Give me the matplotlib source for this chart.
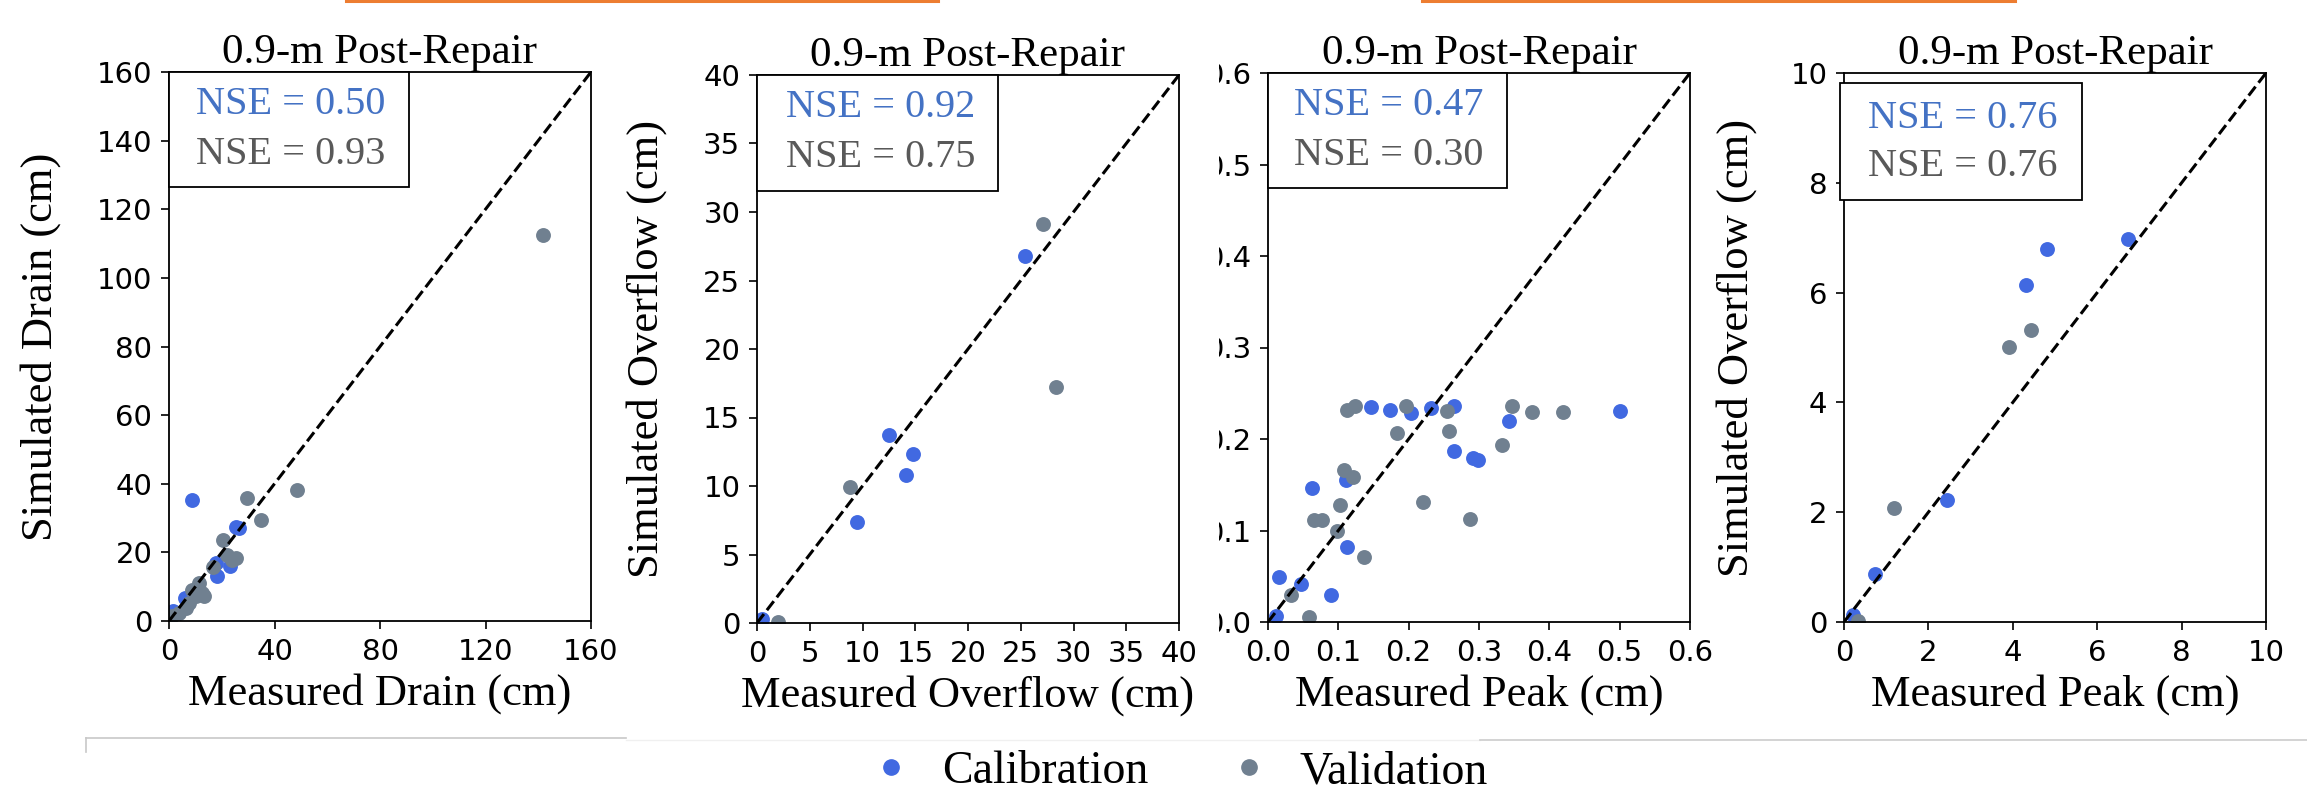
import matplotlib
matplotlib.use("Agg")
import matplotlib.pyplot as plt
from matplotlib.patches import Rectangle
from matplotlib.lines import Line2D

# ---------------- data ----------------
title = "0.9-m Post-Repair"
cal_color = "royalblue"
val_color = "slategray"

# Panel 1: Drain
drain_cal_x = [8.85, 25.3, 26.5, 17.7, 23.0, 18.3, 6.1, 1.5]
drain_cal_y = [35.3, 27.4, 27.1, 16.8, 16.1, 13.0, 6.7, 2.9]
drain_val_x = [141.8, 48.7, 29.5, 35.0, 20.6, 22.1, 25.3, 23.8, 16.7, 11.4, 8.85,
               12.6, 13.3, 10.1, 7.6, 6.3, 3.8, 1.3]
drain_val_y = [112.6, 38.2, 35.9, 29.5, 23.6, 19.2, 18.3, 17.8, 15.7, 11.1, 9.1,
               8.2, 7.2, 7.2, 5.3, 3.8, 2.4, 1.4]

# Panel 2: Overflow
over_cal_x = [25.45, 12.5, 14.8, 14.1, 9.5, 0.45]
over_cal_y = [26.8, 13.75, 12.3, 10.8, 7.4, 0.3]
over_val_x = [27.1, 28.3, 8.8, 2.0]
over_val_y = [29.1, 17.2, 9.95, 0.07]

# Panel 3: Peak
peak_cal_x = [0.147, 0.174, 0.203, 0.232, 0.264, 0.500, 0.342, 0.264, 0.292, 0.298,
              0.111, 0.062, 0.112, 0.015, 0.047, 0.089, 0.011]
peak_cal_y = [0.235, 0.232, 0.228, 0.234, 0.236, 0.231, 0.220, 0.187, 0.179, 0.177,
              0.155, 0.146, 0.082, 0.049, 0.041, 0.029, 0.007]
peak_val_x = [0.112, 0.124, 0.196, 0.255, 0.347, 0.375, 0.419, 0.183, 0.258, 0.332,
              0.108, 0.121, 0.221, 0.102, 0.065, 0.077, 0.287, 0.098, 0.136, 0.033, 0.058]
peak_val_y = [0.232, 0.236, 0.236, 0.231, 0.236, 0.230, 0.230, 0.207, 0.209, 0.193,
              0.166, 0.158, 0.131, 0.128, 0.112, 0.112, 0.113, 0.099, 0.071, 0.030, 0.006]

# Panel 4: Peak (overflow)
pk2_cal_x = [6.74, 4.80, 4.32, 2.43, 0.73, 0.21]
pk2_cal_y = [6.98, 6.79, 6.13, 2.22, 0.87, 0.13]
pk2_val_x = [4.42, 3.92, 1.19, 0.32]
pk2_val_y = [5.31, 5.01, 2.07, 0.02]

panels = [
    dict(cx=drain_cal_x, cy=drain_cal_y, vx=drain_val_x, vy=drain_val_y, lim=160,
         xticks=[0, 40, 80, 120, 160], yticks=list(range(0, 161, 20)),
         xlabel="Measured Drain (cm)", ylabel="Simulated Drain (cm)",
         nse=("NSE = 0.50", "NSE = 0.93")),
    dict(cx=over_cal_x, cy=over_cal_y, vx=over_val_x, vy=over_val_y, lim=40,
         xticks=list(range(0, 41, 5)), yticks=list(range(0, 41, 5)),
         xlabel="Measured Overflow (cm)", ylabel="Simulated Overflow (cm)",
         nse=("NSE = 0.92", "NSE = 0.75")),
    dict(cx=peak_cal_x, cy=peak_cal_y, vx=peak_val_x, vy=peak_val_y, lim=0.6,
         xticks=[0.0, 0.1, 0.2, 0.3, 0.4, 0.5, 0.6], yticks=[0.0, 0.1, 0.2, 0.3, 0.4, 0.5, 0.6],
         xlabel="Measured Peak (cm)", ylabel=None,
         nse=("NSE = 0.47", "NSE = 0.30")),
    dict(cx=pk2_cal_x, cy=pk2_cal_y, vx=pk2_val_x, vy=pk2_val_y, lim=10,
         xticks=[0, 2, 4, 6, 8, 10], yticks=[0, 2, 4, 6, 8, 10],
         xlabel="Measured Peak (cm)", ylabel="Simulated Overflow (cm)",
         nse=("NSE = 0.76", "NSE = 0.76")),
]

# ---------------- layout (pixels of a 2307x800 canvas) ----------------
W, H = 2307, 800
ax_px = [(169, 72, 621), (757, 75, 623), (1268, 73, 622), (1844, 73, 622)]
ax_w = 422
box_px = [(0.0, 0.569, 1.0, 0.79), (0.0, 0.571, 1.0, 0.788),
          (0.0, 0.566, 1.0, 0.79), (-0.01, 0.564, 0.982, 0.769)]
nse_pos = [(0.065, 0.94, 0.85), (0.069, 0.94, 0.85), (0.062, 0.94, 0.85), (0.057, 0.918, 0.829)]
ylab_x = [-0.256, -0.213, None, -0.206]

serif = "Liberation Serif"
fig = plt.figure(figsize=(W / 100, H / 100), dpi=100)
fig.patch.set_facecolor("white")

for i, p in enumerate(panels):
    l, t, b = ax_px[i]
    ax = fig.add_axes([l / W, (H - b) / H, ax_w / W, (b - t) / H])
    ax.scatter(p["cx"], p["cy"], s=115, color=cal_color, linewidths=0, zorder=2)
    ax.scatter(p["vx"], p["vy"], s=115, color=val_color, linewidths=0, zorder=2)
    ax.plot([0, p["lim"]], [0, p["lim"]], color="black", ls="--", lw=2.2, zorder=3)
    ax.set_xlim(0, p["lim"])
    ax.set_ylim(0, p["lim"])
    ax.set_xticks(p["xticks"])
    ax.set_yticks(p["yticks"])
    if p["lim"] < 1:
        ax.set_xticklabels([f"{v:.1f}" for v in p["xticks"]])
        ax.set_yticklabels([f"{v:.1f}" for v in p["yticks"]])
    ax.tick_params(labelsize=21, length=6, width=1.2, pad=6)
    for s in ax.spines.values():
        s.set_linewidth(1.3)
    ax.set_title(title, fontfamily=serif, fontsize=31, pad=4)
    ax.set_xlabel(p["xlabel"], fontfamily=serif, fontsize=32, labelpad=5)
    if p["ylabel"]:
        ax.set_ylabel(p["ylabel"], fontfamily=serif, fontsize=32)
        ax.yaxis.set_label_coords(ylab_x[i], 0.5)
    x0, x1, y1, y0 = box_px[i]
    ax.add_patch(Rectangle((x0, y0), x1 - x0, y1 - y0, transform=ax.transAxes,
                           facecolor="white", edgecolor="black", lw=1.3,
                           clip_on=False, zorder=4))
    tx, ty1, ty2 = nse_pos[i]
    ax.text(tx, ty1, p["nse"][0], transform=ax.transAxes, color="#4472C4",
            fontfamily=serif, fontsize=29, va="center", ha="left", zorder=5)
    ax.text(tx, ty2, p["nse"][1], transform=ax.transAxes, color="#595959",
            fontfamily=serif, fontsize=29, va="center", ha="left", zorder=5)

# panel-3 tick labels are partly hidden by the neighbouring panel in the reference
fig.add_artist(Rectangle((1182 / W, (H - 640) / H), (1219 - 1182) / W, (640 - 50) / H,
                         transform=fig.transFigure, facecolor="white",
                         edgecolor="none", zorder=20))

# legend
handles = [Line2D([], [], marker="o", ls="none", color=cal_color, markersize=11),
           Line2D([], [], marker="o", ls="none", color=val_color, markersize=11)]
fig.legend(handles, ["Calibration", "Validation"], loc="center",
           bbox_to_anchor=(1178 / W, 1 - 772 / H), ncol=2, frameon=False,
           prop={"family": serif, "size": 33}, handlelength=1.0,
           handletextpad=0.6, columnspacing=1.7)

# thin separator / screenshot edge lines
fig.add_artist(Line2D([86 / W, 626 / W], [1 - 738 / H] * 2, transform=fig.transFigure,
                      color="#c8c8c8", lw=1.2))
fig.add_artist(Line2D([86 / W, 86 / W], [1 - 738 / H, 1 - 752 / H], transform=fig.transFigure,
                      color="#c8c8c8", lw=1.2))
fig.add_artist(Line2D([626 / W, 1480 / W], [1 - 740 / H] * 2, transform=fig.transFigure,
                      color="#f0f0f0", lw=1.0))
fig.add_artist(Line2D([1480 / W, 1.0], [1 - 740 / H] * 2, transform=fig.transFigure,
                      color="#cccccc", lw=1.2))
# orange edges at the top
fig.add_artist(Line2D([346 / W, 938 / W], [1 - 1 / H] * 2, transform=fig.transFigure,
                      color="#ED7D31", lw=2.2))
fig.add_artist(Line2D([1422 / W, 2015 / W], [1 - 1 / H] * 2, transform=fig.transFigure,
                      color="#ED7D31", lw=2.2))

fig.savefig("out.png", dpi=100, facecolor="white")
